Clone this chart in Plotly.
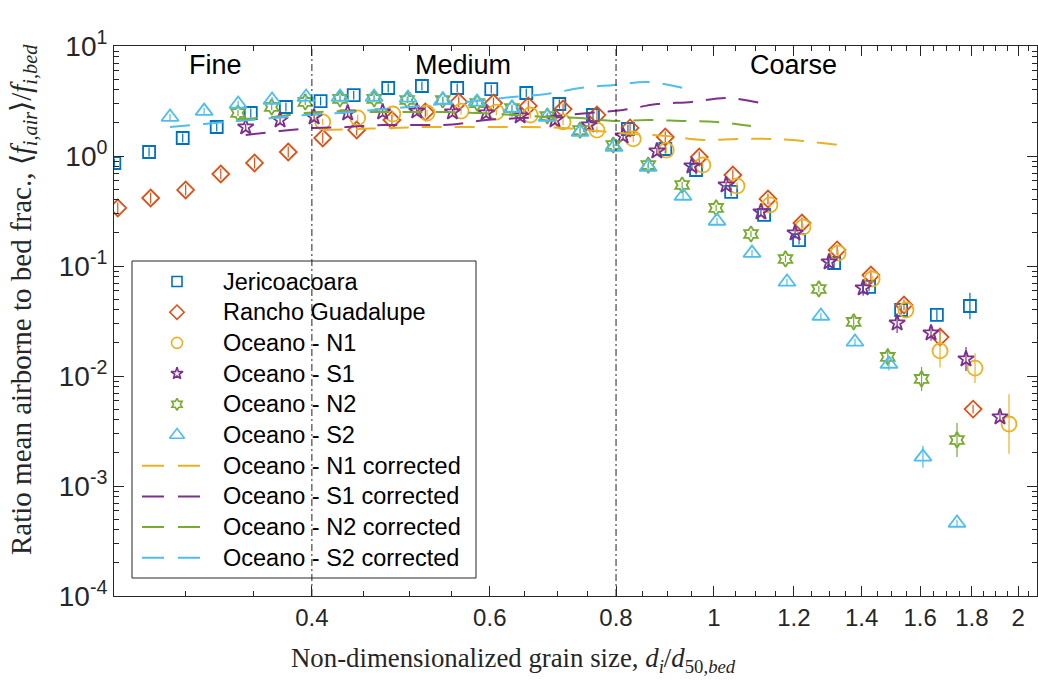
import numpy as np
import plotly.graph_objects as go

# ---------------- data ----------------
jer_x = [0.255, 0.276, 0.298, 0.322, 0.348, 0.377, 0.408, 0.440, 0.476, 0.514, 0.557, 0.602, 0.652,
         0.703, 0.759, 0.822, 0.895, 0.960, 1.040, 1.121, 1.214, 1.315, 1.424, 1.532, 1.662, 1.792]
jer_y = [0.864, 1.087, 1.458, 1.835, 2.46, 2.79, 3.16, 3.58, 4.15, 4.33, 4.15, 4.06, 3.74,
         2.97, 2.36, 1.76, 1.158, 0.746, 0.471, 0.291, 0.172, 0.1065, 0.0645, 0.0398, 0.0359, 0.0433]
jer_e = [0.04] * 24 + [0.05, 0.12]

ran_x = [0.257, 0.277, 0.300, 0.325, 0.351, 0.379, 0.410, 0.443, 0.480, 0.518, 0.559, 0.605, 0.655,
         0.709, 0.766, 0.826, 0.895, 0.967, 1.044, 1.131, 1.222, 1.324, 1.430, 1.542, 1.674, 1.805]
ran_y = [0.337, 0.415, 0.491, 0.686, 0.864, 1.087, 1.458, 1.723, 2.125, 2.51, 3.10, 3.03, 2.85,
         2.67, 2.36, 1.80, 1.488, 0.979, 0.672, 0.407, 0.246, 0.140, 0.0828, 0.0442, 0.0226, 0.0050]
ran_e = [0.05] * 24 + [0.08, 0.04]

n1_x = [0.410, 0.444, 0.481, 0.520, 0.562, 0.609, 0.658, 0.709, 0.766, 0.832, 0.897, 0.975, 1.054,
        1.136, 1.225, 1.327, 1.434, 1.549, 1.674, 1.813, 1.959]
n1_y = [2.04, 2.22, 2.41, 2.46, 2.56, 2.51, 2.36, 2.04, 1.72, 1.43, 1.13, 0.828, 0.534,
        0.359, 0.226, 0.131, 0.0762, 0.0398, 0.0169, 0.0118, 0.00366]
n1_e = [0.03] * 18 + [0.15, 0.135, 0.27]

s1_x = [0.344, 0.372, 0.402, 0.434, 0.470, 0.508, 0.551, 0.595, 0.643, 0.696, 0.752, 0.813, 0.878,
        0.951, 1.028, 1.113, 1.203, 1.300, 1.405, 1.518, 1.640, 1.776, 1.919]
s1_y = [1.835, 2.125, 2.26, 2.46, 2.51, 2.56, 2.51, 2.46, 2.31, 2.125, 1.913, 1.52, 1.11,
        0.811, 0.545, 0.310, 0.1995, 0.1088, 0.0631, 0.0303, 0.0246, 0.01428, 0.00424]
s1_e = [0.03] * 16 + [0.05, 0.05, 0.07, 0.09, 0.07, 0.11, 0.04]

n2_x = [0.338, 0.365, 0.394, 0.4265, 0.461, 0.497, 0.539, 0.583, 0.631, 0.684, 0.737, 0.795, 0.861,
        0.930, 1.005, 1.088, 1.177, 1.270, 1.375, 1.486, 1.605, 1.740]
n2_y = [2.46, 2.79, 3.10, 3.30, 3.30, 3.23, 3.23, 3.03, 2.73, 2.31, 1.72, 1.259, 0.828,
        0.545, 0.337, 0.1954, 0.1158, 0.0618, 0.0310, 0.0149, 0.0094, 0.00262]
n2_e = [0.03] * 18 + [0.05, 0.08, 0.11, 0.155]

s2_x = [0.2895, 0.3129, 0.3381, 0.3653, 0.3947, 0.4265, 0.4609, 0.498, 0.5393, 0.5828, 0.6312, 0.6836,
        0.737, 0.7964, 0.8606, 0.932, 1.007, 1.0906, 1.181, 1.276, 1.379, 1.490, 1.610, 1.740]
s2_y = [2.26, 2.56, 2.97, 3.23, 3.44, 3.44, 3.44, 3.37, 3.23, 3.10, 2.73, 2.26,
        1.65, 1.207, 0.794, 0.433, 0.2566, 0.131, 0.0716, 0.0351, 0.0204, 0.01285, 0.00184, 0.000461]
s2_e = [0.03] * 21 + [0.06, 0.10, 0.03]

n1c_x = n1_x[:16]
n1c_y = [1.72, 1.76, 1.80, 1.835, 1.835, 1.835, 1.835, 1.80, 1.687, 1.585, 1.52, 1.40, 1.43, 1.43, 1.37, 1.259]
s1c_x = s1_x[:16]
s1c_y = [1.55, 1.687, 1.80, 1.835, 1.913, 1.913, 1.93, 2.125, 2.21, 2.31, 2.46, 2.62, 2.97, 3.10, 3.37, 3.03]
n2c_x = n2_x[:16]
n2c_y = [2.17, 2.26, 2.46, 2.56, 2.51, 2.51, 2.51, 2.46, 2.36, 2.26, 2.21, 2.08, 2.125, 2.08, 2.04, 1.87]
s2c_x = s2_x[:16]
s2c_y = [1.835, 1.955, 2.08, 2.21, 2.36, 2.46, 2.62, 2.79, 2.97, 3.16, 3.44, 3.66, 4.15, 4.42, 4.70, 4.15]

class_bounds = [0.4, 0.8]
class_labels = ["Fine", "Medium", "Coarse"]

x_major = [0.4, 0.6, 0.8, 1, 1.2, 1.4, 1.6, 1.8, 2]
x_major_text = ["0.4", "0.6", "0.8", "1", "1.2", "1.4", "1.6", "1.8", "2"]
y_major = [1e-4, 1e-3, 1e-2, 1e-1, 1e0, 1e1]
y_major_text = ["10<sup>-4</sup>", "10<sup>-3</sup>", "10<sup>-2</sup>", "10<sup>-1</sup>",
                "10<sup>0</sup>", "10<sup>1</sup>"]

# ---------------- style ----------------
C_BLUE = "#0072BD"
C_RED = "#D95319"
C_YEL = "#EDB120"
C_PUR = "#7E2F8E"
C_GRN = "#77AC30"
C_CYA = "#4DBEEE"
AX = "#262626"
SANS = "Liberation Sans, Arial, sans-serif"
SERIF = "Liberation Serif, Times New Roman, serif"

# pixel layout of the plotting box
L, R, T, B = 114, 1, 46, 84
W, H = 1038, 680
PW, PH = W - L - R, H - T - B


def px(xp):
    return (xp - L) / PW


def py(yp):
    return (H - B - yp) / PH


fig = go.Figure()


def err(y, e):
    y = np.asarray(y, float)
    e = np.asarray(e, float)
    return y * (10 ** e - 1), y * (1 - 10 ** (-e))


point_series = [
    (jer_x, jer_y, jer_e, "Jericoacoara", C_BLUE, "square-open", 12, 10),
    (ran_x, ran_y, ran_e, "Rancho Guadalupe", C_RED, "diamond-open", 13, 11),
    (n1_x, n1_y, n1_e, "Oceano - N1", C_YEL, "circle-open", 15, 11),
    (s1_x, s1_y, s1_e, "Oceano - S1", C_PUR, "star-open", 12, 9),
    (n2_x, n2_y, n2_e, "Oceano - N2", C_GRN, "hexagram-open", 12, 9),
    (s2_x, s2_y, s2_e, "Oceano - S2", C_CYA, "triangle-up-open", 15, 13),
]
DASH = "20px,13px"
line_series = [
    (n1c_x, n1c_y, "Oceano - N1 corrected", C_YEL),
    (s1c_x, s1c_y, "Oceano - S1 corrected", C_PUR),
    (n2c_x, n2c_y, "Oceano - N2 corrected", C_GRN),
    (s2c_x, s2c_y, "Oceano - S2 corrected", C_CYA),
]

for x, y, e, name, color, symbol, size, _ in point_series:
    up, dn = err(y, e)
    fig.add_trace(go.Scatter(
        x=x, y=y, mode="markers", name=name, showlegend=False,
        marker=dict(symbol=symbol, size=size, color=color, line=dict(color=color, width=1.8)),
        error_y=dict(type="data", array=up, arrayminus=dn, color=color, thickness=1.2, width=0),
    ))

for x, y, name, color in line_series:
    fig.add_trace(go.Scatter(x=x, y=y, mode="lines", name=name, showlegend=False,
                             line=dict(color=color, width=2, dash=DASH, shape="spline")))

for b in class_bounds:
    fig.add_trace(go.Scatter(x=[b, b], y=[1e-4, 1e1], mode="lines", showlegend=False,
                             line=dict(color="#222222", width=1, dash="7px,3px,2px,3px"),
                             hoverinfo="skip"))

# ---------------- legend (drawn on a pixel overlay axis) ----------------
LEG_BOX = (132, 261, 476, 578)
row_y0, row_dy = 281.5, 30.7
sym_x, line_x0, line_x1, text_x = 177, 142, 200, 221

shapes = [dict(type="rect", xref="x2", yref="y2", x0=LEG_BOX[0], x1=LEG_BOX[2],
               y0=LEG_BOX[1], y1=LEG_BOX[3], fillcolor="white",
               line=dict(color=AX, width=1), layer="below")]
annos = []
row = 0
for x, y, e, name, color, symbol, size, lsize in point_series:
    ry = row_y0 + row * row_dy
    fig.add_trace(go.Scatter(x=[sym_x], y=[ry], xaxis="x2", yaxis="y2", mode="markers",
                             showlegend=False, hoverinfo="skip",
                             marker=dict(symbol=symbol, size=lsize, color=color,
                                         line=dict(color=color, width=1.6))))
    annos.append(dict(text=name, x=px(text_x), y=py(ry), xref="paper", yref="paper",
                      xanchor="left", yanchor="middle", showarrow=False,
                      font=dict(family=SANS, size=23.5, color="black")))
    row += 1
for x, y, name, color in line_series:
    ry = row_y0 + row * row_dy
    fig.add_trace(go.Scatter(x=[line_x0, line_x1], y=[ry, ry], xaxis="x2", yaxis="y2",
                             mode="lines", showlegend=False, hoverinfo="skip",
                             line=dict(color=color, width=2, dash="22px,14px")))
    annos.append(dict(text=name, x=px(text_x), y=py(ry), xref="paper", yref="paper",
                      xanchor="left", yanchor="middle", showarrow=False,
                      font=dict(family=SANS, size=23.5, color="black")))
    row += 1

x_minor = [round(v, 2) for v in np.arange(0.30, 2.09, 0.05)
           if all(abs(v - m) > 1e-6 for m in x_major)]
y_minor = [m * 10.0 ** d for d in range(-4, 1) for m in range(2, 10)]

fig.update_layout(
    xaxis=dict(type="log", range=[np.log10(0.2548), np.log10(2.088)],
               tickmode="array", tickvals=x_major, ticktext=x_major_text,
               ticks="inside", ticklen=10, tickwidth=1, tickcolor=AX,
               showline=True, linecolor=AX, linewidth=1, mirror="ticks",
               showgrid=False, zeroline=False,
               tickfont=dict(family=SANS, size=24, color=AX),
               minor=dict(tickmode="array", tickvals=x_minor, ticks="inside", ticklen=5,
                          tickcolor=AX, tickwidth=1, showgrid=False)),
    yaxis=dict(type="log", range=[-4, 1],
               tickmode="array", tickvals=y_major, ticktext=y_major_text,
               ticks="inside", ticklen=10, tickwidth=1, tickcolor=AX,
               showline=True, linecolor=AX, linewidth=1, mirror="ticks",
               showgrid=False, zeroline=False,
               tickfont=dict(family=SANS, size=28, color=AX),
               minor=dict(tickmode="array", tickvals=y_minor, ticks="inside", ticklen=5,
                          tickcolor=AX, tickwidth=1, showgrid=False)),
    xaxis2=dict(overlaying="x", range=[L, W - R], visible=False, fixedrange=True),
    yaxis2=dict(overlaying="y", range=[H - B, T], visible=False, fixedrange=True),
)

for lab, xc in zip(class_labels, [215, 463, 793]):
    annos.append(dict(text=lab, x=px(xc), y=py(65), xref="paper", yref="paper",
                      xanchor="center", yanchor="middle", showarrow=False,
                      font=dict(family=SANS, size=27, color="black")))
annos.append(dict(text="Ratio mean airborne to bed frac., \u27e8<i>f</i><sub><i>i,air</i></sub>\u27e9/<i>f</i><sub><i>i,bed</i></sub>",
                  x=px(23), y=py(300), xref="paper", yref="paper", textangle=-90, showarrow=False,
                  xanchor="center", yanchor="middle",
                  font=dict(family=SERIF, size=29, color=AX)))
annos.append(dict(text="Non-dimensionalized grain size, <i>d</i><sub><i>i</i></sub>/<i>d</i><sub>50,<i>bed</i></sub>",
                  x=px(513), y=py(660), xref="paper", yref="paper", showarrow=False,
                  xanchor="center", yanchor="middle",
                  font=dict(family=SERIF, size=26.8, color=AX)))

fig.update_layout(
    width=W, height=H,
    margin=dict(l=L, r=R, t=T, b=B),
    paper_bgcolor="white", plot_bgcolor="white",
    annotations=annos, shapes=shapes,
    showlegend=False,
)

fig.write_html("out.html")
